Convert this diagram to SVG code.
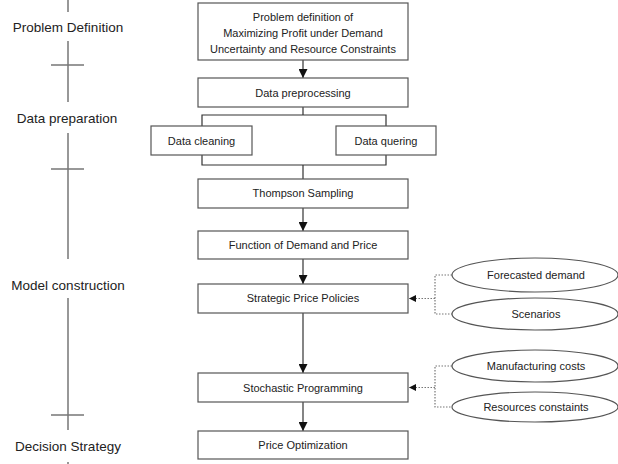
<svg xmlns="http://www.w3.org/2000/svg" width="618" height="464" viewBox="0 0 618 464">
<style>
.bg{fill:#fff}
.box{fill:#fff;stroke:#555;stroke-width:1.2}
.ell{fill:#fff;stroke:#555;stroke-width:1.2}
.t{font-family:"Liberation Sans",Arial,sans-serif;font-size:11px;fill:#222;text-anchor:middle}
.lab{font-family:"Liberation Sans",Arial,sans-serif;font-size:13.5px;fill:#222;text-anchor:middle}
.tl{stroke:#777;stroke-width:1.5;fill:none}
.ln{stroke:#333;stroke-width:1.2;fill:none}
.dot{stroke:#777;stroke-width:1.2;fill:none;stroke-dasharray:1.5 1.5}
</style>
<defs>
<marker id="ah" markerUnits="userSpaceOnUse" markerWidth="9" markerHeight="9" refX="9" refY="4.5" orient="auto">
<path d="M0,0 L9,4.5 L0,9 z" fill="#111"/>
</marker>
<marker id="ahs" markerUnits="userSpaceOnUse" markerWidth="7" markerHeight="7" refX="7" refY="3.5" orient="auto">
<path d="M0,0 L7,3.5 L0,7 z" fill="#111"/>
</marker>
</defs>
<rect class="bg" x="0" y="0" width="618" height="464"/>

<g id="timeline">
<path class="tl" d="M68,0 V12 M68,41 V102 M51,65 H84 M68,133 V259 M51,169 H84 M68,298 V430 M51,415 H84 M68,462 V464"/>
<text class="lab" x="68" y="32">Problem Definition</text>
<text class="lab" x="67" y="123">Data preparation</text>
<text class="lab" x="68" y="290">Model construction</text>
<text class="lab" x="68" y="451">Decision Strategy</text>
</g>

<g id="connectors">
<path class="ln" d="M303,60 V78" marker-end="url(#ah)"/>
<path class="ln" d="M303,107 V115 M202,126 V115 H386 V126"/>
<path class="ln" d="M202,155 V165 H386 V155 M303,165 V179"/>
<path class="ln" d="M303,208 V231" marker-end="url(#ah)"/>
<path class="ln" d="M303,259 V284" marker-end="url(#ah)"/>
<path class="ln" d="M303,313 V373" marker-end="url(#ah)"/>
<path class="ln" d="M303,402 V431" marker-end="url(#ah)"/>
<path class="dot" d="M452,275 H435 V314 H452"/>
<path class="dot" d="M435,298.5 H409" marker-end="url(#ahs)"/>
<path class="dot" d="M452,366 H435 V407 H452"/>
<path class="dot" d="M435,387.5 H409" marker-end="url(#ahs)"/>
</g>

<g id="n1">
<rect class="box" x="198" y="3" width="210" height="57"/>
<text class="t" x="303" y="21">Problem definition of</text>
<text class="t" x="303" y="37">Maximizing Profit under Demand</text>
<text class="t" x="303" y="53">Uncertainty and Resource Constraints</text>
</g>
<g id="n2">
<rect class="box" x="198" y="78" width="210" height="29"/>
<text class="t" x="303" y="97">Data preprocessing</text>
</g>
<g id="n3">
<rect class="box" x="151" y="126" width="101" height="29"/>
<text class="t" x="201.5" y="145">Data cleaning</text>
</g>
<g id="n4">
<rect class="box" x="336" y="126" width="100" height="29"/>
<text class="t" x="386" y="145">Data quering</text>
</g>
<g id="n5">
<rect class="box" x="198" y="179" width="210" height="29"/>
<text class="t" x="303" y="197">Thompson Sampling</text>
</g>
<g id="n6">
<rect class="box" x="198" y="231" width="210" height="28"/>
<text class="t" x="303" y="249">Function of Demand and Price</text>
</g>
<g id="n7">
<rect class="box" x="198" y="284" width="210" height="29"/>
<text class="t" x="303" y="302">Strategic Price Policies</text>
</g>
<g id="n8">
<rect class="box" x="198" y="373" width="210" height="29"/>
<text class="t" x="303" y="392">Stochastic Programming</text>
</g>
<g id="n9">
<rect class="box" x="198" y="431" width="210" height="28"/>
<text class="t" x="303" y="449">Price Optimization</text>
</g>
<g id="e1">
<ellipse class="ell" cx="535" cy="275" rx="83" ry="17"/>
<text class="t" x="536" y="279">Forecasted demand</text>
</g>
<g id="e2">
<ellipse class="ell" cx="535" cy="314" rx="83" ry="16"/>
<text class="t" x="536" y="318">Scenarios</text>
</g>
<g id="e3">
<ellipse class="ell" cx="535" cy="366" rx="83" ry="16"/>
<text class="t" x="536" y="370">Manufacturing costs</text>
</g>
<g id="e4">
<ellipse class="ell" cx="535" cy="407" rx="83" ry="15"/>
<text class="t" x="536" y="411">Resources constaints</text>
</g>
</svg>
